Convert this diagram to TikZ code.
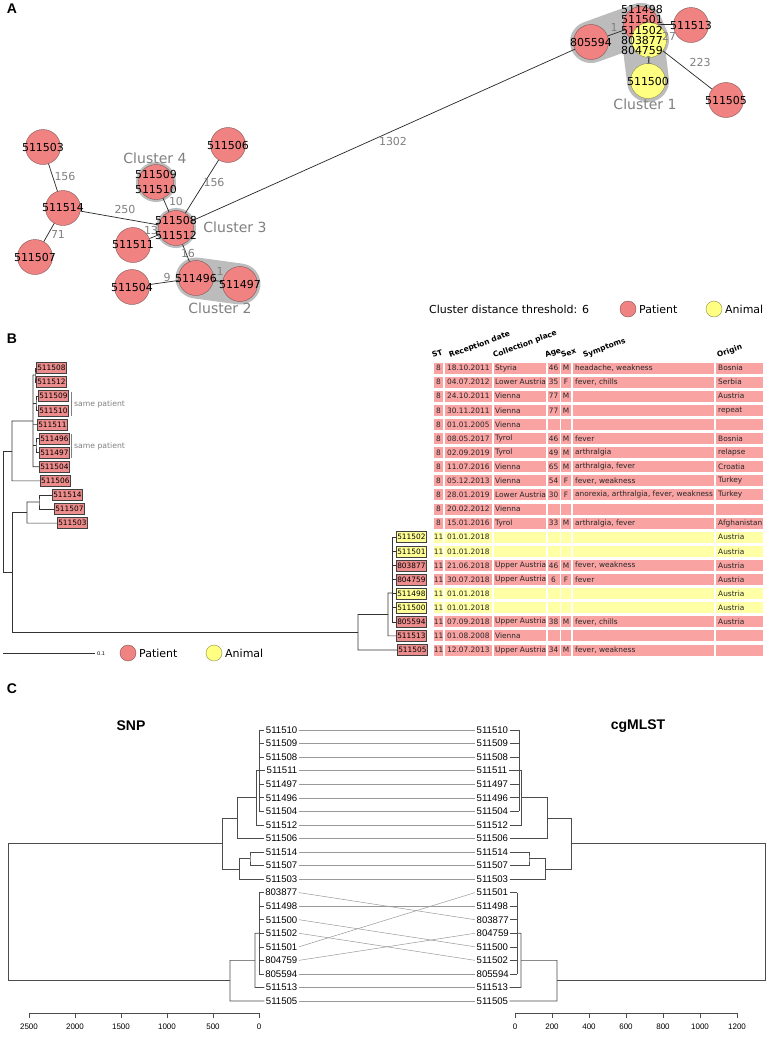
\documentclass[tikz,border=0pt]{standalone}
\usepackage{fontspec}
\setmainfont{DejaVu Sans}
\newfontfamily\rfont{Liberation Sans}
\usetikzlibrary{positioning}

\definecolor{patient}{RGB}{240,130,130}
\definecolor{patientline}{RGB}{130,85,85}
\definecolor{animal}{RGB}{255,255,130}
\definecolor{animalline}{RGB}{140,140,80}
\definecolor{hull}{RGB}{188,188,188}
\definecolor{labgray}{RGB}{128,128,128}
\definecolor{cellred}{RGB}{249,163,163}
\definecolor{cellyellow}{RGB}{255,255,165}
\definecolor{boxred}{RGB}{236,140,140}
\definecolor{boxyellow}{RGB}{255,255,150}

\begin{document}
\begin{tikzpicture}[x=1pt, y=-1pt, every node/.style={inner sep=0pt},
    patientnode/.style={circle, draw=patientline, fill=patient, minimum size=35pt},
    animalnode/.style={circle, draw=animalline, fill=animal, minimum size=35pt},
    nodetext/.style={font=\fontsize{11}{15.5}\selectfont, align=center},
    edgelab/.style={font=\fontsize{11}{11}\selectfont, text=labgray},
    clusterlab/.style={font=\fontsize{14}{14}\selectfont, text=labgray},
    legendtext/.style={font=\fontsize{11}{11}\selectfont, anchor=west},
    link/.style={draw=black!85, line width=0.7pt},
    hullpath/.style={draw=hull, line width=#1, line cap=round, line join=round},
    paneltitle/.style={font=\rfont\bfseries\fontsize{14}{14}\selectfont},
    header/.style={font=\bfseries\fontsize{7.5}{8}\selectfont, anchor=base west, rotate=20},
    celltext/.style={font=\fontsize{7.4}{8}\selectfont, text=black!85},
    seqbox/.style={draw=black!75, line width=0.5pt, inner sep=1pt, minimum height=11pt, font=\fontsize{7.4}{8}\selectfont, anchor=west},
    tree/.style={draw=black!80, line width=0.6pt},
    clab/.style={font=\rfont\fontsize{9.6}{10}\selectfont, inner sep=1.5pt},
    dendro/.style={draw=black!70, line width=0.6pt},
    crossline/.style={draw=black!40, line width=0.5pt},
    axistext/.style={font=\rfont\fontsize{8}{8}\selectfont}]

\fill[white] (0,0) rectangle (768,1045);
\useasboundingbox (0,0) rectangle (768,1045);

% ---------- A: minimum spanning tree ----------
\node[paneltitle] (titleA) at (12,9) {A};

% cluster hulls
\draw[hullpath=42pt] (591,42) -- (641,24) -- (648,81);
\draw[hullpath=42pt] (641,24) -- (648,40);
\draw[hullpath=41pt] (196,278) -- (240,284);
\fill[hull] (156,182) circle (20pt);
\fill[hull] (176,228) circle (20pt);

\foreach \nm/\x/\y in {805594/591/42, 511513/691/25, 511505/726/100,
    511503/43/147, 511506/228/145, 511514/63/208, 511507/35/257,
    511511/133/245, 511504/132/287, 511496/196/278, 511497/240/284,
    511509/156/182, 511508/176/228}
  \node[patientnode] (n\nm) at (\x,\y) {};
\node[patientnode] (c1r) at (641,24) {};
\node[animalnode] (c1y) at (649,40) {};
\node[animalnode] (n511500) at (648,81) {};

\draw[link] (n511503) -- (n511514);
\draw[link] (n511514) -- (n511507);
\draw[link] (n511514) -- (n511508);
\draw[link] (n511509) -- (n511508);
\draw[link] (n511506) -- (n511508);
\draw[link] (n511511) -- (n511508);
\draw[link] (n511508) -- (n511496);
\draw[link] (n511504) -- (n511496);
\draw[link] (n511496) -- (n511497);
\draw[link] (n511508) -- (n805594);
\draw[link] (n805594) -- (c1r);
\draw[link] (c1r) -- (n511513);
\draw[link] (c1y) -- (n511500);
\draw[link] (c1y) -- (n511505);

\foreach \nm/\x/\y/\txt in {w1302/393/141/1302, w156a/65/176/156, w250/125/209/250,
    w71/58/234/71, w10/176/201/10, w156b/214/182/156, w13/151/230/13,
    w16/188/253/16, w9/167/277/9, w1a/220/271/1, w1b/614/27/1, w27/669/36/27,
    w1c/649/60/1, w223/700/62/223}
  \node[edgelab] (\nm) at (\x,\y) {\txt};

\foreach \nm in {805594, 511513, 511505, 511503, 511506, 511514, 511507,
    511511, 511504, 511496, 511497, 511500}
  \node[nodetext] (t\nm) at (n\nm) {\nm};
\node[nodetext] (t511509) at (n511509) {511509\\511510};
\node[nodetext] (t511508) at (n511508) {511508\\511512};
\node[nodetext, font=\fontsize{11}{10.3}\selectfont] (c1) at (642,30)
  {511498\\511501\\511502\\803877\\804759};

\node[clusterlab] (cl1) at (645,104) {Cluster 1};
\node[clusterlab] (cl2) at (220,308) {Cluster 2};
\node[clusterlab] (cl3) at (235,227) {Cluster 3};
\node[clusterlab] (cl4) at (155,158) {Cluster 4};

\node[legendtext] (thr) at (429,309) {Cluster distance threshold: 6};
\node[patientnode, minimum size=16pt] (lgAp) at (628,309) {};
\node[legendtext] (lgApt) at (639,309) {Patient};
\node[animalnode, minimum size=16pt] (lgAa) at (714,309) {};
\node[legendtext] (lgAat) at (725,309) {Animal};

% ---------- B: phylogeny and metadata ----------
\node[paneltitle] (titleB) at (12,339) {B};

\foreach \nm/\x/\txt in {hst/433/ST, hdate/450/Reception date, hplace/494/Collection place,
    hage/546/Age, hsex/562/Sex, hsym/584/Symptoms, horig/718/Origin}
  \node[header] (\nm) at (\x,358) {\txt};

\foreach \i/\st/\dt/\pl/\ag/\sx/\sy/\og/\cc in {
    0/8/18.10.2011/Styria/46/M/{headache, weakness}/Bosnia/cellred,
    1/8/04.07.2012/Lower Austria/35/F/{fever, chills}/Serbia/cellred,
    2/8/24.10.2011/Vienna/77/M//Austria/cellred,
    3/8/30.11.2011/Vienna/77/M//repeat/cellred,
    4/8/01.01.2005/Vienna/////cellred,
    5/8/08.05.2017/Tyrol/46/M/fever/Bosnia/cellred,
    6/8/02.09.2019/Tyrol/49/M/arthralgia/relapse/cellred,
    7/8/11.07.2016/Vienna/65/M/{arthralgia, fever}/Croatia/cellred,
    8/8/05.12.2013/Vienna/54/F/{fever, weakness}/Turkey/cellred,
    9/8/28.01.2019/Lower Austria/30/F/{anorexia, arthralgia, fever, weakness}/Turkey/cellred,
    10/8/20.02.2012/Vienna/////cellred,
    11/8/15.01.2016/Tyrol/33/M/{arthralgia, fever}/Afghanistan/cellred,
    12/11/01.01.2018/////Austria/cellyellow,
    13/11/01.01.2018/////Austria/cellyellow,
    14/11/21.06.2018/Upper Austria/46/M/{fever, weakness}/Austria/cellred,
    15/11/30.07.2018/Upper Austria/6/F/fever/Austria/cellred,
    16/11/01.01.2018/////Austria/cellyellow,
    17/11/01.01.2018/////Austria/cellyellow,
    18/11/07.09.2018/Upper Austria/38/M/{fever, chills}/Austria/cellred,
    19/11/01.08.2008/Vienna/////cellred,
    20/11/12.07.2013/Upper Austria/34/M/{fever, weakness}//cellred}
{
  \pgfmathsetmacro\yy{368+14.1*\i}
  \foreach \a/\b in {434/443, 445/492, 493.5/546, 547.5/559.5, 561/571, 573/714, 716/763}
    \fill[\cc] (\a,\yy-5.5) rectangle (\b,\yy+5.5);
  \node[celltext] (st\i) at (438.5,\yy) {\st};
  \node[celltext, anchor=west] (dt\i) at (447,\yy) {\dt};
  \node[celltext, anchor=west] (pl\i) at (495,\yy) {\pl};
  \node[celltext] (ag\i) at (553.5,\yy) {\ag};
  \node[celltext] (sx\i) at (566,\yy) {\sx};
  \node[celltext, anchor=west] (sy\i) at (575,\yy) {\sy};
  \node[celltext, anchor=west] (og\i) at (718,\yy) {\og};
}

\foreach \nm/\x/\i/\cc in {511508/36/0/boxred, 511512/36/1/boxred, 511509/38/2/boxred,
    511510/38/3/boxred, 511511/37/4/boxred, 511496/39/5/boxred, 511497/39/6/boxred,
    511504/39/7/boxred, 511506/40/8/boxred, 511514/52/9/boxred, 511507/54/10/boxred,
    511503/57/11/boxred, 511502/396/12/boxyellow, 511501/396/13/boxyellow,
    803877/396/14/boxred, 804759/396/15/boxred, 511498/396/16/boxyellow,
    511500/396/17/boxyellow, 805594/396/18/boxred, 511513/396/19/boxred,
    511505/397/20/boxred}
  \node[seqbox, fill=\cc] (b\nm) at (\x,{368+14.1*\i}) {\nm};

% tree of panel B
\draw[tree] (b511508.west) -| (35,375) |- (b511512.west);
\draw[tree] (b511509.west) -| (36,403) |- (b511510.west);
\draw[tree] (b511496.west) -| (36,445.5) |- (b511497.west);
\draw[tree] (35,375) -| (33,466.7) -- (b511504.west);
\draw[tree] (33,403) -- (36,403);
\draw[tree] (33,424.4) -- (b511511.west);
\draw[tree] (33,445.5) -- (36,445.5);
\draw[tree] (33,421) -| (12,480.8) -- (b511506.west);
\draw[tree] (b511514.west) -| (39,502) |- (b511507.west);
\draw[tree] (39,502) -| (27,523.1) -- (b511503.west);
\draw[tree] (392,537.2) -- (392,621.8);
\foreach \nm in {511502, 511501, 803877, 804759, 511498, 511500, 805594}
  \draw[tree] (392,0 |- b\nm.west) -- (b\nm.west);
\draw[tree] (392,593) -| (388,635.9) -- (b511513.west);
\draw[tree] (388,614.5) -| (358,650) -- (b511505.west);
\draw[tree] (27,512.5) -| (12,632) -- (358,632);
\draw[tree] (12,451) -| (3,572) -- (12,572);

\draw[draw=labgray, line width=0.5pt] (71,392) -- (71,416);
\node[font=\fontsize{7.7}{8}\selectfont, text=labgray, anchor=west] (same1) at (74,404) {same patient};
\draw[draw=labgray, line width=0.5pt] (71,434) -- (71,458);
\node[font=\fontsize{7.7}{8}\selectfont, text=labgray, anchor=west] (same2) at (74,446) {same patient};

\draw[tree] (3,653) -- (95,653);
\node[font=\fontsize{5}{5}\selectfont, anchor=west] (scale) at (97,653.5) {0.1};
\node[patientnode, minimum size=16pt] (lgBp) at (128,653) {};
\node[legendtext] (lgBpt) at (139,653) {Patient};
\node[animalnode, minimum size=16pt] (lgBa) at (214,653) {};
\node[legendtext] (lgBat) at (225,653) {Animal};

% ---------- C: tanglegram ----------
\node[paneltitle] (titleC) at (12,689) {C};
\node[paneltitle] (snp) at (131,726) {SNP};
\node[paneltitle] (cgmlst) at (638,726) {cgMLST};

\foreach \nm [count=\i from 0] in {511510, 511509, 511508, 511511, 511497, 511496,
    511504, 511512, 511506, 511514, 511507, 511503, 803877, 511498, 511500,
    511502, 511501, 804759, 805594, 511513, 511505}
  \node[clab, anchor=east] (l\i) at (299,730+13.55*\i) {\nm};
\foreach \nm [count=\i from 0] in {511510, 511509, 511508, 511511, 511497, 511496,
    511504, 511512, 511506, 511514, 511507, 511503, 511501, 511498, 803877,
    804759, 511500, 511502, 805594, 511513, 511505}
  \node[clab, anchor=west] (r\i) at (475,730+13.55*\i) {\nm};

\foreach \a/\b in {0/0, 1/1, 2/2, 3/3, 4/4, 5/5, 6/6, 7/7, 8/8, 9/9, 10/10, 11/11,
    12/14, 13/13, 14/16, 15/17, 16/12, 17/15, 18/18, 19/19, 20/20}
  \draw[crossline] (l\a.east) -- (r\b.west);

% left dendrogram (SNP)
\draw[dendro] (259,730) -- (259,811.3);
\foreach \i in {0,...,6} \draw[dendro] (259,730+13.55*\i) -- (l\i.west);
\draw[dendro] (l7.west) -| (256,770.6) -- (259,770.6);
\draw[dendro] (l8.west) -| (237,797.7) -- (256,797.7);
\draw[dendro] (l9.west) -| (250,858.7) |- (l10.west);
\draw[dendro] (l11.west) -| (239,858.7) -- (250,858.7);
\draw[dendro] (237,818) -| (222,868.9) -- (239,868.9);
\draw[dendro] (259,892.6) -- (259,973.9);
\foreach \i in {12,...,18} \draw[dendro] (259,730+13.55*\i) -- (l\i.west);
\draw[dendro] (259,933.25) -| (255,987.45) -- (l19.west);
\draw[dendro] (255,960.4) -| (230,1001) -- (l20.west);
\draw[dendro] (222,843.4) -| (8,980.7) -- (230,980.7);

% right dendrogram (cgMLST)
\draw[dendro] (519,730) -- (519,811.3);
\foreach \i in {0,...,6} \draw[dendro] (r\i.east) -- (519,730+13.55*\i);
\draw[dendro] (r7.east) -| (521,770.6) -- (519,770.6);
\draw[dendro] (r8.east) -| (547,797.7) -- (521,797.7);
\draw[dendro] (r9.east) -| (529,858.7) |- (r10.east);
\draw[dendro] (r11.east) -| (545,858.7) -- (529,858.7);
\draw[dendro] (547,818) -| (571,868.9) -- (545,868.9);
\draw[dendro] (517,892.6) -- (517,973.9);
\foreach \i in {12,...,18} \draw[dendro] (r\i.east) -- (517,730+13.55*\i);
\draw[dendro] (517,933.25) -| (521,987.45) -- (r19.east);
\draw[dendro] (521,960.4) -| (557,1001) -- (r20.east);
\draw[dendro] (571,843.4) -| (765,980.7) -- (557,980.7);

% axes
\draw[dendro] (29,1013) -- (259,1013);
\foreach \k in {0,...,5} {
  \pgfmathtruncatemacro\v{500*\k}
  \draw[dendro] (259-46*\k,1013) -- (259-46*\k,1018);
  \node[axistext] (ax\k) at (259-46*\k,1027) {\v};
}
\draw[dendro] (515,1013) -- (737,1013);
\foreach \k in {0,...,6} {
  \pgfmathtruncatemacro\v{200*\k}
  \draw[dendro] (515+37*\k,1013) -- (515+37*\k,1018);
  \node[axistext] (ay\k) at (515+37*\k,1027) {\v};
}
\end{tikzpicture}
\end{document}
